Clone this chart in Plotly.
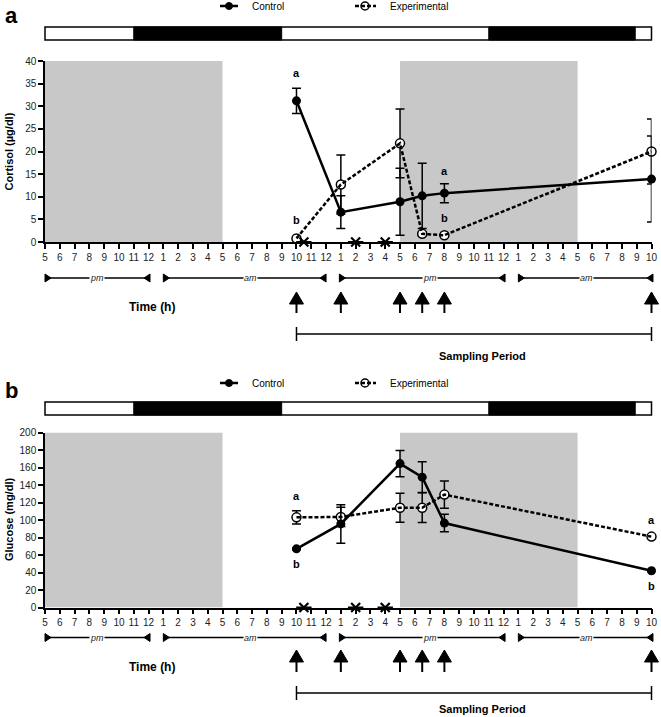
import plotly.graph_objects as go

W, H = 661, 717

# ---------------- data ----------------
tick_labels = (['5', '6', '7', '8', '9', '10', '11', '12']
               + [str(i) for i in range(1, 13)]
               + [str(i) for i in range(1, 13)]
               + [str(i) for i in range(1, 11)])
tick_vals = list(range(len(tick_labels)))

sample_times = [17, 20, 24, 25.5, 27, 41]

cortisol_control = [31.2, 6.6, 8.9, 10.2, 10.8, 13.9]
cortisol_control_err = [2.8, 3.6, 7.4, 7.2, 2.1, 9.5]
cortisol_exp = [0.8, 12.7, 21.8, 1.8, 1.5, 20.0]
cortisol_exp_err = [0.3, 6.5, 7.6, 0.4, 0.4, 7.2]

glucose_control = [67.0, 95.5, 164.5, 149.0, 96.5, 42.0]
glucose_control_err = [1.0, 22.0, 15.0, 17.5, 10.0, 1.0]
glucose_exp = [103.0, 103.5, 114.0, 114.0, 129.0, 81.0]
glucose_exp_err = [7.5, 11.0, 16.5, 17.0, 15.5, 1.0]

feeding_times = [17.5, 21, 23]
shaded_periods = [(0, 12), (24, 36)]
dark_periods = [(6, 16), (30, 39.9)]
day_bar_span = (0, 41)
period_labels = ['pm', 'am', 'pm', 'am']
period_spans = [(0, 7.1), (8, 19), (19.9, 31.1), (32, 41.1)]
period_label_pos = [3.5, 13.9, 26, 36.6]
sampling_span = (17, 41)

cortisol_sig = [('control', 0, 'a'), ('exp', 0, 'b'), ('control', 4, 'a'), ('exp', 4, 'b')]
glucose_sig = [('exp', 0, 'a'), ('control', 0, 'b'), ('exp', 5, 'a'), ('control', 5, 'b')]

series_names = ['Control', 'Experimental']

# ---------------- geometry helpers ----------------
X0_PIX, X1_PIX = 45.0, 651.5
NT = len(tick_labels) - 1
S = (X1_PIX - X0_PIX) / NT  # px per hour


def py(p):
    return 1 - p / H


def pxp(p):
    return p / W


FONT = 'Liberation Sans, Arial, sans-serif'

fig = go.Figure()

panels = [
    dict(xa='x', ya='y', letter='a', ymax=40, dtick=5,
         ctrl=cortisol_control, ctrl_err=cortisol_control_err,
         exp=cortisol_exp, exp_err=cortisol_exp_err,
         sig=cortisol_sig, sig_shift=[28, 18, 22, 17],
         title='Cortisol (µg/dl)', y_top=61, y_bot=242, shade_top=40,
         bar=(27, 40), legend_y=6, letter_y=15, pm_y=278, arrow=(292, 313),
         time_y=307, samp_y=334, sp_y=356),
    dict(xa='x2', ya='y2', letter='b', ymax=200, dtick=20,
         ctrl=glucose_control, ctrl_err=glucose_control_err,
         exp=glucose_exp, exp_err=glucose_exp_err,
         sig=glucose_sig, sig_shift=[21, -15, 17, -15],
         title='Glucose (mg/dl)', y_top=432.5, y_bot=607.5, shade_top=200,
         bar=(402, 415), legend_y=383, letter_y=390, pm_y=637.5, arrow=(650, 672),
         time_y=667, samp_y=693, sp_y=709),
]

shapes = []
annotations = []


def ann(**kw):
    kw.setdefault('showarrow', False)
    kw.setdefault('xanchor', 'center')
    kw.setdefault('yanchor', 'middle')
    annotations.append(kw)


for p in panels:
    xa, ya = p['xa'], p['ya']
    # grey shaded periods
    for a, b in shaded_periods:
        shapes.append(dict(type='rect', xref=xa, yref=ya, x0=a, x1=b, y0=0, y1=p['shade_top'],
                           fillcolor='#c8c8c8', line=dict(width=0), layer='below'))

    # experimental series: markers + error bars, then dashed line drawn on top
    fig.add_trace(go.Scatter(
        x=sample_times, y=p['exp'], xaxis=xa, yaxis=ya, mode='markers',
        name=series_names[1], showlegend=False, cliponaxis=False,
        marker=dict(symbol='circle', size=9, color='white', line=dict(color='black', width=1.5)),
        error_y=dict(type='data', array=p['exp_err'], color='black', thickness=1.5, width=4.5)))
    fig.add_trace(go.Scatter(
        x=sample_times, y=p['exp'], xaxis=xa, yaxis=ya, mode='lines',
        name=series_names[1], showlegend=False, cliponaxis=False,
        line=dict(color='black', width=2.5, dash='4px,2px')))
    # control series
    fig.add_trace(go.Scatter(
        x=sample_times, y=p['ctrl'], xaxis=xa, yaxis=ya, mode='lines+markers',
        name=series_names[0], showlegend=False, cliponaxis=False,
        line=dict(color='black', width=2.5),
        marker=dict(symbol='circle', size=9, color='black'),
        error_y=dict(type='data', array=p['ctrl_err'], color='black', thickness=1.5, width=4.5)))
    # feeding markers on the axis
    fig.add_trace(go.Scatter(
        x=feeding_times, y=[0] * len(feeding_times), xaxis=xa, yaxis=ya, mode='markers',
        showlegend=False, cliponaxis=False, hoverinfo='skip',
        marker=dict(symbol='x-thin', size=9, line=dict(color='black', width=2.2))))
    fig.add_trace(go.Scatter(
        x=feeding_times, y=[0] * len(feeding_times), xaxis=xa, yaxis=ya, mode='markers',
        showlegend=False, cliponaxis=False, hoverinfo='skip',
        marker=dict(symbol='line-ew', size=11, line=dict(color='black', width=2))))

    # significance letters
    for (ser, idx, txt), sh in zip(p['sig'], p['sig_shift']):
        yv = p['ctrl'][idx] if ser == 'control' else p['exp'][idx]
        ann(x=sample_times[idx], y=yv, xref=xa, yref=ya, text='<b>%s</b>' % txt,
            yshift=sh, font=dict(size=11, color='black', family=FONT))

    # light / dark bar
    b0, b1 = p['bar']
    shapes.append(dict(type='rect', xref='x3', yref='paper', x0=day_bar_span[0], x1=day_bar_span[1],
                       y0=py(b1), y1=py(b0), fillcolor='white', line=dict(color='black', width=1.5)))
    for a, b in dark_periods:
        shapes.append(dict(type='rect', xref='x3', yref='paper', x0=a, x1=b,
                           y0=py(b1), y1=py(b0), fillcolor='black', line=dict(color='black', width=1)))

    # legend (manual)
    ly = p['legend_y']
    shapes.append(dict(type='line', xref='paper', yref='paper', x0=pxp(220), x1=pxp(238),
                       y0=py(ly), y1=py(ly), line=dict(color='black', width=2.5)))
    shapes.append(dict(type='circle', xref='paper', yref='paper', x0=pxp(225.5), x1=pxp(232.5),
                       y0=py(ly + 3.5), y1=py(ly - 3.5), fillcolor='black', line=dict(color='black', width=1)))
    ann(x=pxp(250), y=py(ly), xref='paper', yref='paper', text=series_names[0],
        xanchor='left', font=dict(size=10, color='black', family=FONT))
    shapes.append(dict(type='circle', xref='paper', yref='paper', x0=pxp(361), x1=pxp(369),
                       y0=py(ly + 4), y1=py(ly - 4), fillcolor='white', line=dict(color='black', width=1.5)))
    shapes.append(dict(type='line', xref='paper', yref='paper', x0=pxp(355), x1=pxp(376),
                       y0=py(ly), y1=py(ly), line=dict(color='black', width=2.5, dash='4px,2px')))
    ann(x=pxp(388), y=py(ly), xref='paper', yref='paper', text=series_names[1],
        xanchor='left', font=dict(size=10, color='black', family=FONT))

    # panel letter
    ann(x=pxp(11), y=py(p['letter_y']), xref='paper', yref='paper',
        text='<b>%s</b>' % p['letter'], font=dict(size=22, color='black', family=FONT))
    # y-axis title
    ann(x=pxp(9), y=py((p['y_top'] + p['y_bot']) / 2), xref='paper', yref='paper',
        text='<b>%s</b>' % p['title'], textangle=-90, font=dict(size=11, color='black', family=FONT))

    # pm / am ranges
    yl = p['pm_y']
    tri_w = 6 / S
    for lab, (a, b), lp in zip(period_labels, period_spans, period_label_pos):
        shapes.append(dict(type='line', xref='x3', yref='paper', x0=a, x1=b, y0=py(yl), y1=py(yl),
                           line=dict(color='black', width=1.5)))
        shapes.append(dict(type='path', xref='x3', yref='paper',
                           path='M %f,%f L %f,%f L %f,%f Z' % (a, py(yl - 4), a + tri_w, py(yl), a, py(yl + 4)),
                           fillcolor='black', line=dict(color='black', width=1)))
        shapes.append(dict(type='path', xref='x3', yref='paper',
                           path='M %f,%f L %f,%f L %f,%f Z' % (b, py(yl - 4), b - tri_w, py(yl), b, py(yl + 4)),
                           fillcolor='black', line=dict(color='black', width=1)))
        ann(x=lp, y=py(yl), xref='x3', yref='paper', text='<i>%s</i>' % lab,
            bgcolor='white', borderpad=0, font=dict(size=9, color='#222', family=FONT))

    # sampling arrows
    at, ab = p['arrow']
    hw = 7 / S
    for t in sample_times:
        shapes.append(dict(type='path', xref='x3', yref='paper',
                           path='M %f,%f L %f,%f L %f,%f Z' % (t - hw, py(at + 12), t, py(at), t + hw, py(at + 12)),
                           fillcolor='black', line=dict(color='black', width=1)))
        shapes.append(dict(type='line', xref='x3', yref='paper', x0=t, x1=t, y0=py(at + 11), y1=py(ab),
                           line=dict(color='black', width=2)))

    ann(x=pxp(152), y=py(p['time_y']), xref='paper', yref='paper', text='<b>Time (h)</b>',
        font=dict(size=12, color='black', family=FONT))

    # sampling period line
    sy = p['samp_y']
    shapes.append(dict(type='line', xref='x3', yref='paper', x0=sampling_span[0], x1=sampling_span[1],
                       y0=py(sy), y1=py(sy), line=dict(color='black', width=1.5)))
    for t in sampling_span:
        shapes.append(dict(type='line', xref='x3', yref='paper', x0=t, x1=t,
                           y0=py(sy - 7), y1=py(sy + 7), line=dict(color='black', width=1.5)))
    ann(x=pxp(482), y=py(p['sp_y']), xref='paper', yref='paper',
        text='<b>Sampling Period</b>', font=dict(size=11, color='black', family=FONT))

axis_common = dict(showline=True, linecolor='black', linewidth=1.5, showgrid=False, zeroline=False,
                   ticks='outside', ticklen=5, tickwidth=1.5, tickcolor='black', fixedrange=True,
                   automargin=False, tickfont=dict(size=10, color='#222', family=FONT))

xdom = [pxp(X0_PIX), pxp(X1_PIX)]

fig.update_layout(
    width=W, height=H, margin=dict(l=0, r=0, t=0, b=0, pad=0, autoexpand=False),
    paper_bgcolor='white', plot_bgcolor='rgba(0,0,0,0)',
    font=dict(family=FONT, color='black'),
    showlegend=False,
    xaxis=dict(domain=xdom, range=[0, NT], anchor='y', tickvals=tick_vals, ticktext=tick_labels, **axis_common),
    yaxis=dict(domain=[py(242), py(61)], range=[0, 40], dtick=5, anchor='x', **axis_common),
    xaxis2=dict(domain=xdom, range=[0, NT], anchor='y2', tickvals=tick_vals, ticktext=tick_labels, **axis_common),
    yaxis2=dict(domain=[py(607.5), py(432.5)], range=[0, 200], dtick=20, anchor='x2', **axis_common),
    # helper scale spanning the whole figure width, same hour-to-pixel mapping as the plot x axes
    xaxis3=dict(domain=[0, 1], range=[-X0_PIX / S, (W - X0_PIX) / S], visible=False,
                anchor='y3', fixedrange=True),
    yaxis3=dict(domain=[0, 0.001], range=[0, 1], visible=False, anchor='x3', fixedrange=True),
    shapes=shapes,
    annotations=annotations,
)

fig.write_html('out.html', config={'displayModeBar': False},
               post_script="document.body.style.margin='0px';document.body.style.overflow='hidden';")
